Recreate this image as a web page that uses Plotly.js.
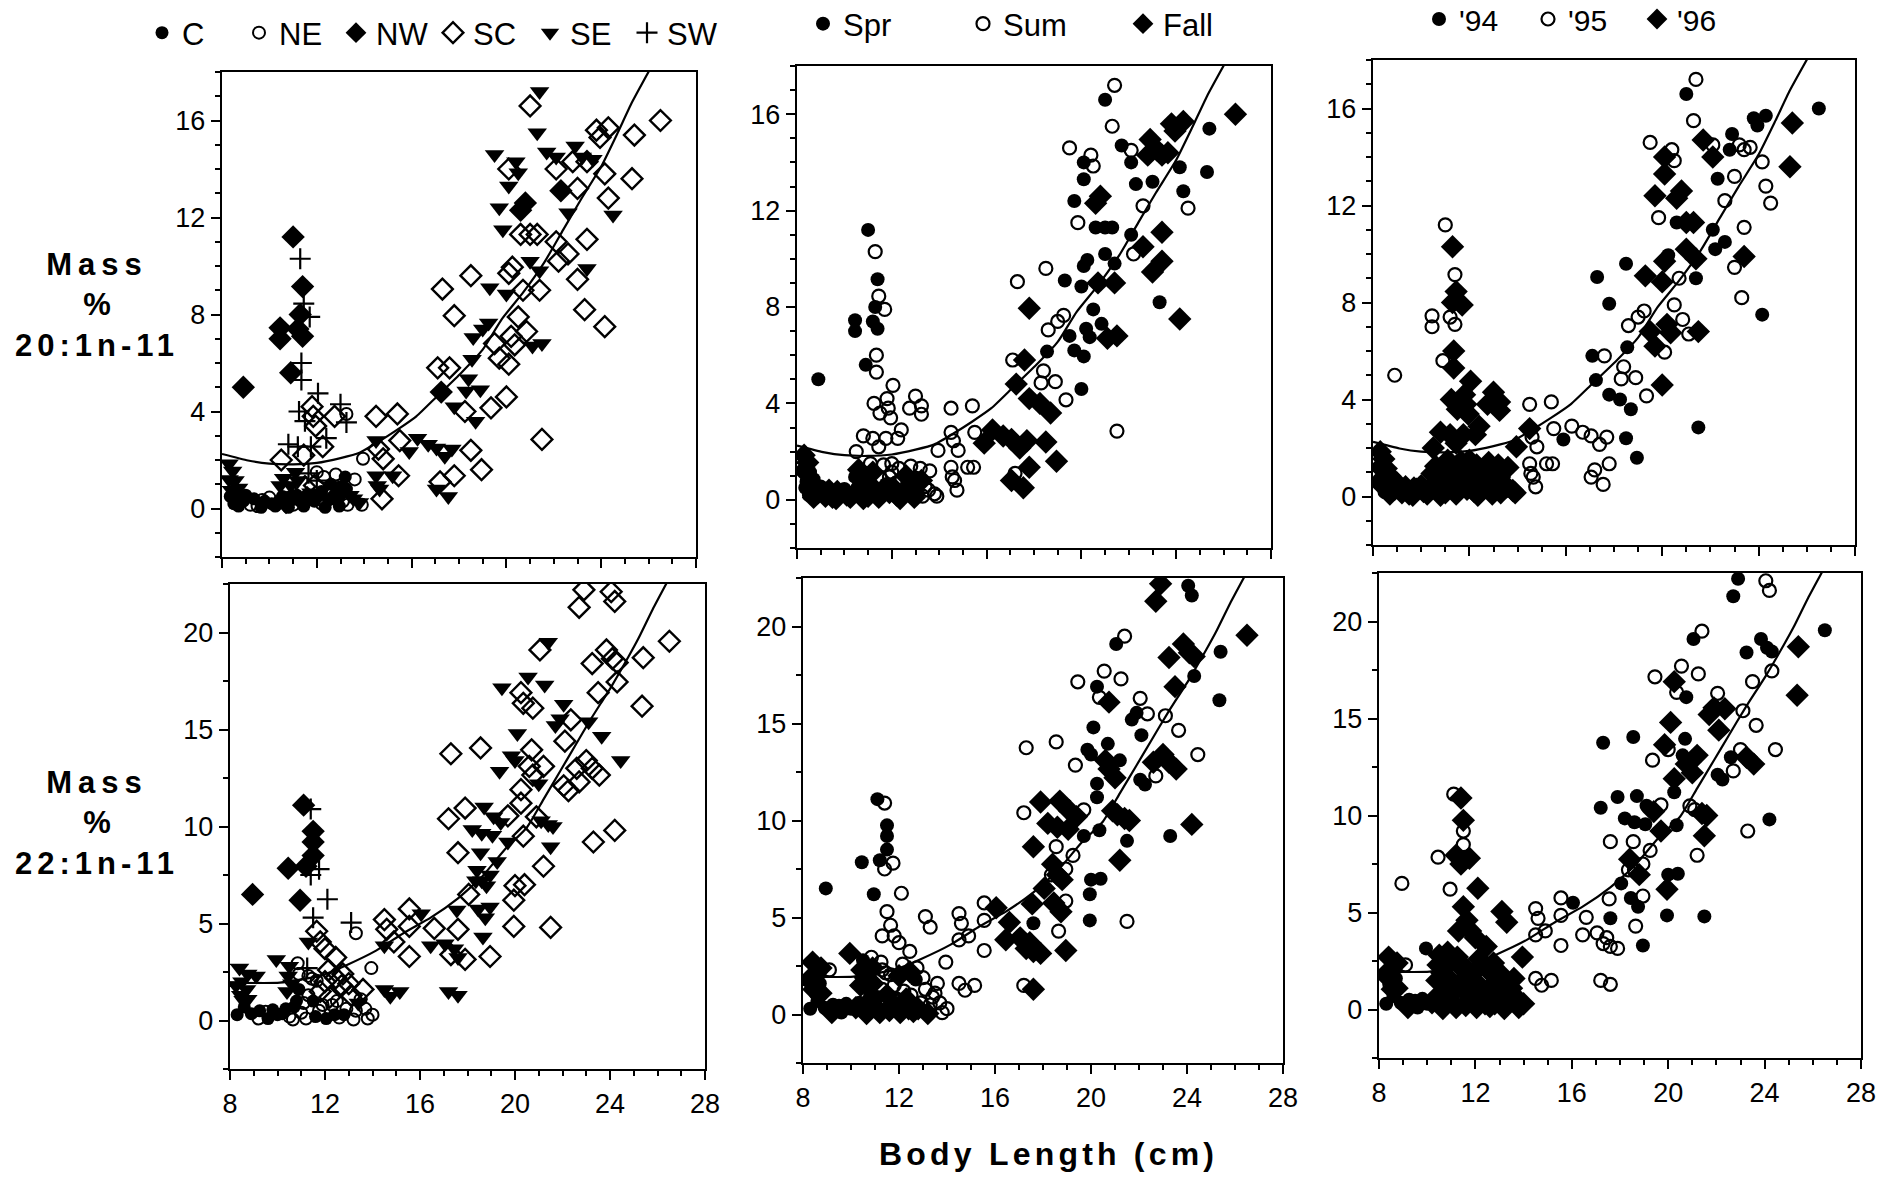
<!DOCTYPE html>
<html><head><meta charset="utf-8">
<script src="https://cdn.plot.ly/plotly-3.0.1.min.js"></script>
<style>html,body{margin:0;padding:0;background:#fff}#chart{width:1889px;height:1184px}</style>
</head><body><div id="chart"></div>
<script>
// ---------- TOP ROW : Mass % 20:1n-11 ----------
const topLen = [
 21.4,21.0,21.3,26.5,25.4,23.8,24.3,23.95,21.7,22.1,
 22.1,22.9,22.8,23.2,23.4,23.65,23.0,22.3,24.15,25.3,
 24.3,24.5,22.6,19.5,20.4,20.5,20.1,20.1,19.7,20.8,
 20.6,19.85,20.6,21.0,21.3,22.1,23.4,22.6,22.2,23.0,
 23.4,23.3,24.15,21.0,20.25,20.1,21.4,20.7,21.4,19.3,
 20.0,18.5,17.3,17.8,20.5,19.25,19.0,18.6,20.2,20.35,
 20.85,21.1,21.5,19.7,20.1,19.5,17.1,17.6,18.55,18.4,
 18.3,17.25,17.8,18.25,18.7,19.35,18.9,20.0,21.5,18.5,
 18.95,17.8,17.05,17.55,17.2,16.25,16.7,17.05,17.4,17.7,
 15.9,14.5,15.4,15.5,14.5,14.6,14.8,13.95,14.5,14.55,
 14.65,14.75,15.2,15.45,13.8,
 8.9,11.0,11.3,11.4,11.3,11.2,11.4,11.45,11.7,10.45,
 10.45,10.9,11.35,11.35,12.05,11.25,11.8,11.85,11.5,11.95,
 12.75,13.0,13.25,13.25,12.4,12.25,10.8,11.2,11.45,11.75,
 10.5,11.65,12.0,13.6,11.1,12.8,
 8.3,8.45,8.55,8.4,8.6,8.5,8.9,9.2,9.5,9.8,
 10.1,10.4,10.7,11.0,11.3,11.6,11.9,12.2,12.5,12.8,
 13.1,13.4,10.6,10.9,12.3,12.6,13.0,11.5,11.9,9.7,
 10.9,12.2,13.3,
 8.35,8.7,9.0,9.35,9.65,10.0,10.25,10.55,10.8,11.15,
 11.45,11.75,12.05,12.35,12.65,12.95,13.25,13.55,13.9,10.45,
 11.2,12.0,13.2,8.3,8.7
];
const topMass = [
 17.2,16.6,15.5,16.0,15.4,15.6,15.7,15.3,14.7,14.5,
 14.0,14.95,14.3,14.5,14.3,14.4,13.2,13.1,13.8,13.6,
 12.8,12.1,12.2,14.6,14.3,13.85,14.0,13.3,12.4,12.6,
 12.3,11.5,11.3,11.3,11.3,11.0,11.1,10.5,10.2,9.45,
 9.9,8.2,7.5,10.2,9.95,9.7,9.8,9.0,9.0,9.1,
 8.85,9.6,9.05,7.95,7.9,7.65,7.4,7.05,7.1,6.75,
 7.3,6.7,6.8,6.2,5.95,6.8,5.8,5.8,6.15,5.35,
 4.85,4.8,4.2,4.0,3.6,4.15,4.9,4.6,2.85,2.4,
 1.6,1.35,0.8,0.5,1.1,2.9,2.65,2.5,2.15,2.45,
 2.35,3.8,3.9,2.8,2.8,2.45,2.05,2.05,1.35,0.95,
 0.8,0.4,1.35,1.35,0.25,
 5.0,11.2,10.3,9.15,8.0,7.4,7.1,8.45,7.9,7.45,
 7.0,5.6,6.0,5.3,4.75,4.0,4.2,3.8,3.6,3.4,
 3.8,4.3,3.9,3.55,2.9,2.55,2.65,2.55,2.2,2.55,
 2.0,1.45,1.15,1.2,1.5,1.4,
 1.85,1.55,1.15,0.75,0.45,0.2,0.3,0.15,0.1,0.3,
 0.2,0.3,0.25,0.15,0.3,0.45,0.3,0.2,0.35,0.5,
 0.3,0.55,1.25,0.95,1.3,1.0,0.9,0.9,0.95,0.35,
 0.5,0.7,0.15,
 0.5,0.1,0.55,0.4,0.05,0.45,0.1,0.5,0.05,0.55,
 0.1,0.65,0.5,0.05,0.6,0.1,0.8,0.4,0.15,0.95,
 1.15,1.5,1.3,1.2,0.85
];
const topRegion = [
 'SE','SC','SE','SC','SC','SC','SC','SC','SE','SE',
 'SC','SE','SC','SE','SC','SE','SC','NW','SC','SC',
 'SC','SE','SE','SE','SE','SE','SC','SE','SE','NW',
 'NW','SE','SC','SC','SC','SC','SC','SC','SC','SC',
 'SE','SC','SC','SE','SC','SC','SE','SC','SC','SE',
 'SE','SC','SC','SC','SC','SE','SE','SE','SC','SC',
 'SC','SE','SE','SC','SC','SC','SC','SC','SE','SE',
 'SE','NW','SE','SC','SE','SC','SE','SC','SC','SC',
 'SC','SC','SE','SE','SC','SE','SE','SE','SE','SE',
 'SE','SC','SC','SC','SE','SC','SC','NE','SE','SE',
 'SE','SC','SE','SC','SE',
 'NW','NW','SW','NW','NW','NW','NW','SW','SW','NW',
 'NW','NW','SW','SW','SW','SW','SC','SC','SW','SC',
 'SC','SW','NE','SW','SW','SC','SW','SW','SC','SW',
 'SC','SW','SW','NE','SE','NE',
 'SE','SE','SE','SE','C','C','C','NE','NE','C',
 'C','C','NW','NE','C','NW','C','NE','C','NW',
 'NE','SE','SE','SE','NE','C','C','SC','SC','NE',
 'C','C','NE',
 'C','C','C','C','C','NE','C','C','C','C',
 'C','SE','C','C','NE','C','C','SE','NE','SE',
 'SE','NE','C','SE','SE'
];
const topSeason = [
 'Sum','Spr','Sum','Fall','Spr','Fall','Fall','Fall','Spr','Sum',
 'Spr','Fall','Fall','Fall','Fall','Fall','Spr','Spr','Spr','Spr',
 'Spr','Sum','Sum','Sum','Sum','Sum','Spr','Spr','Spr','Fall',
 'Fall','Sum','Spr','Spr','Spr','Spr','Fall','Fall','Sum','Fall',
 'Fall','Spr','Fall','Spr','Spr','Spr','Spr','Fall','Fall','Spr',
 'Spr','Sum','Sum','Fall','Spr','Sum','Sum','Sum','Spr','Spr',
 'Spr','Fall','Fall','Spr','Spr','Spr','Sum','Fall','Spr','Sum',
 'Sum','Fall','Fall','Fall','Fall','Sum','Sum','Spr','Sum','Fall',
 'Fall','Fall','Fall','Fall','Sum','Fall','Fall','Fall','Fall','Fall',
 'Fall','Sum','Sum','Sum','Sum','Sum','Sum','Sum','Sum','Sum',
 'Sum','Sum','Sum','Sum','Sum',
 'Spr','Spr','Sum','Spr','Spr','Spr','Spr','Sum','Sum','Spr',
 'Spr','Spr','Sum','Sum','Sum','Sum','Sum','Sum','Sum','Sum',
 'Sum','Sum','Sum','Sum','Sum','Sum','Sum','Sum','Sum','Sum',
 'Sum','Sum','Sum','Sum','Sum','Sum',
 'Fall','Fall','Spr','Spr','Fall','Spr','Fall','Fall','Fall','Spr',
 'Fall','Spr','Fall','Fall','Spr','Spr','Fall','Fall','Spr','Fall',
 'Spr','Sum','Fall','Fall','Sum','Fall','Sum','Sum','Sum','Fall',
 'Fall','Sum','Sum',
 'Spr','Fall','Spr','Fall','Fall','Spr','Fall','Spr','Fall','Fall',
 'Fall','Spr','Fall','Fall','Sum','Fall','Fall','Sum','Sum','Spr',
 'Fall','Sum','Sum','Fall','Spr'
];
const topYear = [
 "'95","'94","'95","'94","'96","'94","'94","'94","'96","'95",
 "'96","'94","'94","'95","'95","'95","'95","'94","'95","'96",
 "'95","'95","'95","'95","'95","'95","'96","'96","'96","'96",
 "'96","'95","'94","'96","'96","'94","'95","'94","'94","'95",
 "'96","'95","'94","'96","'94","'96","'96","'95","'94","'96",
 "'96","'94","'94","'94","'95","'95","'95","'95","'96","'96",
 "'95","'95","'96","'96","'95","'96","'94","'95","'94","'95",
 "'95","'94","'94","'94","'94","'95","'95","'96","'94","'94",
 "'94","'95","'95","'95","'95","'95","'95","'95","'95","'95",
 "'94","'95","'95","'95","'96","'95","'95","'96","'95","'95",
 "'95","'95","'95","'95","'96",
 "'95","'95","'96","'95","'96","'95","'95","'96","'96","'95",
 "'95","'95","'96","'96","'96","'96","'96","'96","'96","'96",
 "'96","'96","'96","'96","'96","'96","'96","'96","'96","'96",
 "'96","'96","'96","'96","'96","'96",
 "'96","'96","'96","'96","'96","'95","'96","'96","'96","'96",
 "'96","'96","'96","'96","'96","'96","'96","'96","'96","'96",
 "'96","'96","'96","'96","'96","'96","'96","'96","'96","'96",
 "'96","'96","'96",
 "'96","'96","'96","'96","'96","'96","'96","'96","'96","'96",
 "'96","'96","'96","'96","'96","'96","'96","'96","'96","'96",
 "'96","'96","'96","'96","'96"
];
const topFitLen  = [8.0,9.1,10.0,11.0,12.0,13.0,13.8,14.6,15.4,16.2,17.1,18.1,19.0,19.8,20.7,21.6,22.4,23.15,24.0,24.7,25.3,26.05];
const topFitMass = [2.25,1.98,1.85,1.82,1.88,2.08,2.3,2.75,3.25,3.8,4.65,5.6,6.55,7.8,8.9,10.15,11.5,12.75,14.1,15.5,16.75,18.1];

// ---------- BOTTOM ROW : Mass % 22:1n-11 ----------
const botLen = [
 22.9,22.7,24.05,24.2,21.05,21.4,26.5,25.4,23.25,23.85,
 24.1,24.3,24.3,23.5,25.35,23.1,23.65,24.45,21.7,21.9,
 22.05,22.35,22.1,20.75,20.25,20.55,21.25,19.45,20.35,20.1,
 18.55,17.3,20.7,19.85,20.0,20.6,21.2,19.35,22.05,22.25,
 22.7,23.0,23.25,23.55,22.6,20.25,20.25,20.75,21.0,20.9,
 21.1,21.4,21.6,23.3,24.2,21.5,21.2,20.0,19.95,20.4,
 19.95,21.5,19.7,20.35,19.7,18.2,18.6,19.05,17.9,18.7,
 19.1,19.4,17.2,17.6,18.55,19.25,18.4,18.6,18.8,18.95,
 18.35,18.05,17.55,18.45,18.75,18.95,18.65,17.6,18.95,16.6,
 16.45,17.05,17.3,17.6,17.9,17.45,17.2,17.6,16.05,15.55,
 15.55,15.55,14.5,14.6,14.9,14.5,14.5,14.75,15.15,
 8.95,11.1,11.4,11.5,11.5,11.5,11.2,11.4,11.75,10.45,
 10.95,12.1,11.5,11.3,11.65,11.8,12.0,13.1,13.3,9.95,
 12.45,12.75,13.95,10.85,11.25,11.45,11.65,11.8,
 8.4,8.75,8.5,8.7,8.45,9.1,8.6,8.9,9.2,9.5,
 9.8,10.2,10.5,10.4,10.6,10.9,10.8,11.0,11.3,11.6,
 11.9,12.2,12.4,12.6,12.9,13.1,13.3,13.6,13.8,12.0,
 12.7,10.5,11.1,12.3,13.4,8.55,
 8.3,8.75,8.25,9.25,9.6,10.0,10.35,10.65,10.45,10.9,
 11.2,11.5,11.3,11.75,12.05,12.15,12.5,12.45,12.8,13.0,
 13.2,13.5,13.7,14.0,10.7
];
const botMass = [
 22.2,21.3,22.1,21.6,19.1,19.5,19.55,18.7,18.4,19.1,
 18.65,18.45,17.45,16.9,16.2,15.4,14.65,13.4,15.2,15.55,
 16.3,15.5,14.4,16.1,16.9,17.7,17.3,17.15,16.35,14.8,
 14.05,13.75,13.95,13.65,13.4,13.1,13.1,12.85,12.1,11.85,
 12.3,13.4,13.0,12.65,13.0,11.9,11.2,12.65,12.2,10.5,
 10.3,10.1,10.0,9.2,9.8,8.95,7.95,6.95,6.2,7.0,
 4.85,4.8,9.2,9.5,10.55,9.85,9.65,9.55,10.95,11.0,
 10.5,10.2,10.4,8.65,8.65,8.2,7.75,7.2,6.95,7.5,
 7.2,6.5,5.7,5.75,5.3,5.85,4.3,4.7,3.3,4.75,
 3.85,3.95,3.4,3.25,3.15,3.7,1.5,1.3,5.5,5.75,
 4.85,3.3,5.2,4.7,4.05,3.85,1.6,1.25,1.5,
 6.5,11.1,10.9,9.75,9.2,8.5,7.95,7.5,7.8,7.85,
 6.2,6.25,5.3,4.05,4.6,4.05,3.7,5.05,4.5,3.15,
 3.25,2.4,2.7,2.95,2.7,2.15,2.05,1.5,
 2.7,2.4,2.0,1.6,1.3,2.3,0.7,0.35,0.1,0.45,
 0.55,0.35,0.2,1.5,1.9,2.4,1.0,0.4,1.3,0.2,
 0.8,1.2,0.3,0.15,0.6,1.3,0.5,1.6,0.1,2.0,
 1.8,2.8,0.9,0.8,0.9,1.05,
 0.3,1.1,1.8,0.5,0.1,0.3,0.6,0.05,2.3,1.6,
 0.1,1.0,2.3,0.5,0.1,2.6,1.0,2.2,0.3,1.9,
 0.05,1.1,0.6,0.3,0.7
];
const botRegion = [
 'SC','SC','SC','SC','SC','SE','SC','SC','SC','SC',
 'SC','SC','SC','SC','SC','SE','SE','SE','SE','SE',
 'SE','SC','SC','SC','SC','SE','SE','SE','SC','SE',
 'SC','SC','SC','SE','SE','SC','SC','SE','SC','SC',
 'SC','SC','SC','SC','SC','SC','SC','SC','SE','SC',
 'SE','SE','SE','SC','SC','SE','SC','SC','SC','SC',
 'SC','SC','SE','SC','SC','SE','SE','SE','SC','SE',
 'SE','SE','SC','SC','SE','SE','SE','SE','SE','SE',
 'SE','SC','SE','SE','SE','SE','SE','SC','SC','SC',
 'SE','SE','SC','SE','SC','SE','SE','SE','SE','SC',
 'SC','SC','SC','SC','SC','SE','SE','SE','SE',
 'NW','NW','SW','NW','NW','NW','NW','SW','SW','NW',
 'NW','SW','SW','SE','SC','SC','SC','SW','NE','SE',
 'SC','SC','NE','NE','SW','NE','NE','SC',
 'SE','SE','SE','SE','SE','SE','C','C','NE','NE',
 'C','C','NE','SE','SE','NE','C','NE','NE','C',
 'NE','SC','C','NE','NE','SC','NE','SC','NE','SC',
 'SC','SE','NE','NE','SE','SE',
 'C','SE','SE','C','C','C','C','NE','SE','C',
 'NE','C','NE','NE','C','SC','NE','SC','C','SC',
 'NE','NE','NE','NE','C'
];
const botSeason = [
 'Fall','Fall','Spr','Spr','Spr','Sum','Fall','Spr','Fall','Fall',
 'Fall','Fall','Spr','Fall','Spr','Sum','Sum','Sum','Spr','Spr',
 'Sum','Sum','Spr','Fall','Spr','Sum','Sum','Sum','Sum','Spr',
 'Sum','Sum','Spr','Spr','Spr','Fall','Spr','Sum','Spr','Spr',
 'Sum','Fall','Fall','Fall','Fall','Spr','Spr','Fall','Fall','Fall',
 'Fall','Fall','Fall','Spr','Fall','Spr','Fall','Spr','Spr','Spr',
 'Spr','Sum','Spr','Spr','Sum','Fall','Fall','Fall','Fall','Fall',
 'Fall','Fall','Sum','Fall','Sum','Sum','Fall','Fall','Fall','Sum',
 'Sum','Fall','Fall','Fall','Fall','Sum','Sum','Spr','Fall','Fall',
 'Fall','Fall','Fall','Fall','Fall','Fall','Sum','Fall','Fall','Sum',
 'Sum','Sum','Sum','Sum','Sum','Sum','Sum','Sum','Sum',
 'Spr','Spr','Sum','Spr','Spr','Spr','Spr','Sum','Sum','Spr',
 'Spr','Sum','Sum','Sum','Sum','Sum','Sum','Sum','Sum','Fall',
 'Sum','Sum','Sum','Sum','Sum','Sum','Sum','Sum',
 'Fall','Fall','Fall','Spr','Fall','Sum','Spr','Spr','Fall','Spr',
 'Spr','Fall','Spr','Fall','Fall','Fall','Spr','Fall','Sum','Fall',
 'Sum','Sum','Fall','Fall','Sum','Sum','Sum','Sum','Sum','Fall',
 'Spr','Spr','Spr','Fall','Sum','Spr',
 'Spr','Fall','Fall','Spr','Spr','Spr','Spr','Fall','Fall','Fall',
 'Fall','Fall','Sum','Fall','Fall','Sum','Sum','Fall','Fall','Sum',
 'Fall','Sum','Sum','Sum','Spr'
];
const botYear = [
 "'94","'94","'95","'95","'94","'95","'94","'96","'94","'94",
 "'94","'94","'95","'95","'96","'95","'95","'95","'96","'96",
 "'95","'96","'96","'94","'96","'95","'95","'95","'95","'96",
 "'94","'94","'94","'96","'95","'94","'96","'95","'94","'94",
 "'95","'95","'96","'96","'94","'96","'94","'96","'96","'95",
 "'95","'96","'96","'95","'94","'96","'95","'94","'96","'94",
 "'94","'94","'96","'94","'95","'94","'94","'94","'94","'94",
 "'94","'96","'94","'95","'95","'95","'96","'95","'96","'95",
 "'95","'94","'95","'94","'94","'95","'95","'94","'94","'95",
 "'95","'95","'95","'95","'95","'95","'95","'95","'94","'95",
 "'95","'95","'95","'95","'95","'95","'95","'95","'95",
 "'95","'95","'96","'96","'95","'95","'96","'96","'96","'95",
 "'95","'96","'96","'96","'96","'96","'96","'96","'96","'94",
 "'96","'96","'96","'96","'96","'96","'96","'96",
 "'96","'96","'96","'94","'95","'95","'94","'94","'96","'94",
 "'94","'96","'94","'96","'96","'96","'96","'96","'96","'96",
 "'96","'96","'96","'96","'96","'96","'96","'96","'96","'96",
 "'96","'96","'96","'96","'96","'96",
 "'94","'96","'96","'94","'94","'94","'96","'96","'96","'96",
 "'96","'96","'96","'96","'96","'96","'96","'96","'96","'96",
 "'96","'96","'96","'96","'96"
];
const botFitLen  = [8.0,10.1,11.8,12.9,14.15,15.3,16.45,17.6,18.6,19.6,20.5,21.2,21.9,22.5,23.2,24.05,24.8,25.2,25.8,26.45];
const botFitMass = [1.95,1.95,2.3,2.85,3.6,4.5,5.3,6.3,7.4,8.85,9.95,11.4,12.85,14.1,15.55,17.2,18.8,19.7,21.2,22.7];

// ---------- categories ----------
const regions = ['C','NE','NW','SC','SE','SW'];
const seasons = ['Spr','Sum','Fall'];
const years   = ["'94","'95","'96"];

// ---------- styles ----------
const FONT = 'Liberation Sans, Arial, Helvetica, sans-serif';
const filledCircle = {symbol:'circle', size:14, lw:0};
const openCircle   = {symbol:'circle-open', size:13, lw:2.2};
const filledDiam   = {symbol:'diamond', size:18, lw:0};
const styles = {
  C: {symbol:'circle', size:13, lw:0}, NE: {symbol:'circle-open', size:12, lw:2},
  NW: filledDiam, SC: {symbol:'diamond-open', size:16, lw:2.4},
  SE: {symbol:'triangle-down', size:17, lw:0}, SW: {symbol:'cross-thin-open', size:15, lw:2.2},
  Spr: filledCircle, Sum: openCircle, Fall: filledDiam,
  "'94": filledCircle, "'95": openCircle, "'96": filledDiam
};

function groupTraces(xs, ys, groups, cats, xa, ya, legendId, showLegend) {
  return cats.map(name => {
    const idx = [];
    groups.forEach((g, i) => { if (g === name) idx.push(i); });
    const st = styles[name];
    return {
      type:'scatter', mode:'markers', name: name,
      x: idx.map(i => xs[i]), y: idx.map(i => ys[i]),
      xaxis: xa, yaxis: ya, legend: legendId, showlegend: showLegend,
      marker: {symbol: st.symbol, size: st.size, color:'black', line:{color:'black', width: st.lw}},
      hoverinfo:'x+y+name', cliponaxis: true
    };
  });
}
function fitTrace(xs, ys, xa, ya) {
  return {type:'scatter', mode:'lines', x: xs, y: ys, xaxis: xa, yaxis: ya,
    line:{color:'black', width:2.2, shape:'spline', smoothing:0.5}, showlegend:false, hoverinfo:'skip'};
}

const data = [].concat(
  groupTraces(topLen, topMass, topRegion, regions, 'x',  'y',  'legend',  true),
  [fitTrace(topFitLen, topFitMass, 'x', 'y')],
  groupTraces(topLen, topMass, topSeason, seasons, 'x2', 'y2', 'legend2', true),
  [fitTrace(topFitLen, topFitMass, 'x2', 'y2')],
  groupTraces(topLen, topMass, topYear, years, 'x3', 'y3', 'legend3', true),
  [fitTrace(topFitLen, topFitMass, 'x3', 'y3')],
  groupTraces(botLen, botMass, botRegion, regions, 'x4', 'y4', 'legend', false),
  [fitTrace(botFitLen, botFitMass, 'x4', 'y4')],
  groupTraces(botLen, botMass, botSeason, seasons, 'x5', 'y5', 'legend2', false),
  [fitTrace(botFitLen, botFitMass, 'x5', 'y5')],
  groupTraces(botLen, botMass, botYear, years, 'x6', 'y6', 'legend3', false),
  [fitTrace(botFitLen, botFitMass, 'x6', 'y6')]
);

const W = 1889, H = 1184;
function px2x(a, b) { return [a / W, b / W]; }
function px2y(top, bottom) { return [1 - bottom / H, 1 - top / H]; }

function xAxis(dom, anchor, labels) {
  return {domain: dom, anchor: anchor, range:[8,28], tickmode:'linear', tick0:8, dtick:4,
    showticklabels: labels, ticks:'outside', ticklen:9, tickwidth:2, tickcolor:'black',
    minor:{tick0:8, dtick:1, ticks:'outside', ticklen:5, tickwidth:2, tickcolor:'black', showgrid:false},
    showline:true, linecolor:'black', linewidth:2.4, mirror:true, showgrid:false, zeroline:false,
    tickfont:{family:FONT, size:27, color:'black'}, fixedrange:true};
}
function yAxis(dom, anchor, range, dtick, minorDtick) {
  return {domain: dom, anchor: anchor, range: range, tickmode:'linear', tick0:0, dtick: dtick,
    ticks:'outside', ticklen:9, tickwidth:2, tickcolor:'black',
    minor:{tick0:0, dtick: minorDtick, ticks:'outside', ticklen:5, tickwidth:2, tickcolor:'black', showgrid:false},
    showline:true, linecolor:'black', linewidth:2.4, mirror:true, showgrid:false, zeroline:false,
    tickfont:{family:FONT, size:27, color:'black'}, fixedrange:true};
}
const topRange = [-2, 18], botRange = [-2.5, 22.5];

function legendBox(x, y, entry, size) {
  return {orientation:'h', x: x, y: y, xanchor:'left', yanchor:'middle',
    font:{family:'Liberation Sans Narrow, Liberation Sans, Arial, sans-serif', size: size, color:'black'},
    bgcolor:'rgba(0,0,0,0)', borderwidth:0, itemsizing:'trace', itemwidth:30,
    entrywidth: entry, entrywidthmode:'pixels', itemclick:false, itemdoubleclick:false};
}
function titleAnn(lines, spacing, yCenter) {
  return {xref:'paper', yref:'paper', x: 97 / W, y: 1 - yCenter / H, xanchor:'center', yanchor:'middle',
    showarrow:false, align:'center',
    text: lines.map((t, i) => '<span style="letter-spacing:' + spacing[i] + 'px"><b>' + t + '</b></span>').join('<br>'),
    font:{family:FONT, size:31, color:'black'}};
}

const layout = {
  width: W, height: H, margin:{l:0, r:0, t:0, b:0, autoexpand:false},
  paper_bgcolor:'white', plot_bgcolor:'white',
  font:{family:FONT, color:'black', size:27},
  showlegend: true,
  legend:  legendBox(142 / W, 1 - 33 / H, 52, 31),
  legend2: legendBox(803 / W, 1 - 24 / H, 115, 31),
  legend3: legendBox(1419 / W, 1 - 19 / H, 64, 30),
  xaxis:  xAxis(px2x(222, 696), 'y', false),
  yaxis:  yAxis(px2y(72, 557), 'x', topRange, 4, 1),
  xaxis2: xAxis(px2x(797, 1271), 'y2', false),
  yaxis2: yAxis(px2y(66, 548), 'x2', topRange, 4, 1),
  xaxis3: xAxis(px2x(1373, 1855), 'y3', false),
  yaxis3: yAxis(px2y(60, 545), 'x3', topRange, 4, 1),
  xaxis4: xAxis(px2x(230, 705), 'y4', true),
  yaxis4: yAxis(px2y(584, 1069), 'x4', botRange, 5, 2.5),
  xaxis5: xAxis(px2x(803, 1283), 'y5', true),
  yaxis5: yAxis(px2y(578, 1063), 'x5', botRange, 5, 2.5),
  xaxis6: xAxis(px2x(1379, 1861), 'y6', true),
  yaxis6: yAxis(px2y(573, 1058), 'x6', botRange, 5, 2.5),
  annotations: [
    titleAnn(['Mass', '%', '20:1n-11'], [6, 0, 5], 305),
    titleAnn(['Mass', '%', '22:1n-11'], [6, 0, 5], 823),
    {xref:'paper', yref:'paper', x: 1048 / W, y: 1 - 1154 / H, xanchor:'center', yanchor:'middle',
     showarrow:false, text:'<span style="letter-spacing:4.2px"><b>Body Length (cm)</b></span>',
     font:{family:FONT, size:32, color:'black'}}
  ]
};

Plotly.newPlot('chart', data, layout, {displayModeBar:false, staticPlot:true});
</script>
</body></html>
